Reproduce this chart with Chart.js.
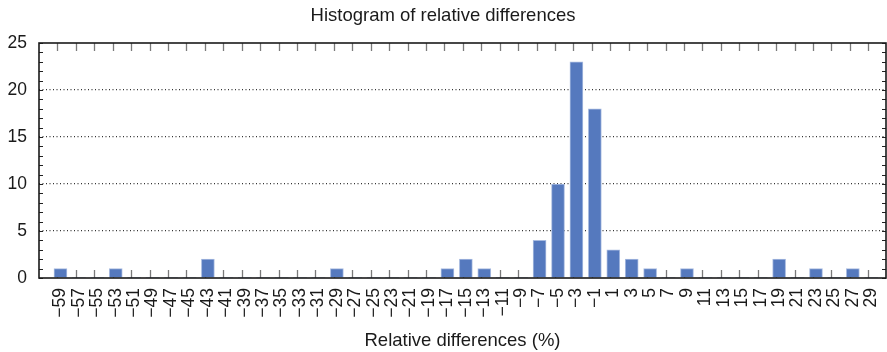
<!DOCTYPE html>
<html>
<head>
<meta charset="utf-8">
<script src="https://cdn.jsdelivr.net/npm/chart.js@4/dist/chart.umd.min.js"></script>
<style>
  html, body { margin: 0; padding: 0; background: #fff; }
  #wrap { width: 887px; height: 352px; }
</style>
</head>
<body>
<div id="wrap"><canvas id="hist" width="887" height="352"></canvas></div>
<script>
// Bin centres (%) and counts per bin
const binCenters = [-59, -57, -55, -53, -51, -49, -47, -45, -43, -41, -39, -37, -35, -33, -31,
                    -29, -27, -25, -23, -21, -19, -17, -15, -13, -11, -9, -7, -5, -3, -1,
                    1, 3, 5, 7, 9, 11, 13, 15, 17, 19, 21, 23, 25, 27, 29];
const binCounts  = [1, 0, 0, 1, 0, 0, 0, 0, 2, 0, 0, 0, 0, 0, 0,
                    1, 0, 0, 0, 0, 0, 1, 2, 1, 0, 0, 4, 10, 23, 18,
                    3, 2, 1, 0, 1, 0, 0, 0, 0, 2, 0, 1, 0, 1, 0];
const yTickValues = [0, 5, 10, 15, 20, 25];
const chartTitle = 'Histogram of relative differences';
const xTitle = 'Relative differences (%)';

const FONT = "'Liberation Sans', Arial, Helvetica, sans-serif";
const INK = '#1a1a1a';

const fmt = v => (v < 0 ? '\u2212' + Math.abs(v) : String(v));

// Inward tick marks on all four sides plus the surrounding box
const framePlugin = {
  id: 'frame',
  beforeDatasetsDraw(chart) {
    const { ctx, chartArea: a, scales: { x, y } } = chart;
    ctx.save();
    // x ticks (top and bottom), pointing into the plot
    ctx.strokeStyle = '#7a7a7a';
    ctx.lineWidth = 1.3;
    ctx.beginPath();
    binCenters.forEach(v => {
      const px = Math.round(x.getPixelForValue(v)) - 3 + 0.5;
      ctx.moveTo(px, a.top); ctx.lineTo(px, a.top + 8);
      ctx.moveTo(px, a.bottom); ctx.lineTo(px, a.bottom - 8);
    });
    ctx.stroke();
    // y minor ticks every unit (left and right), pointing inward
    ctx.strokeStyle = '#222';
    ctx.lineWidth = 1.2;
    ctx.beginPath();
    for (let v = y.min; v <= y.max; v++) {
      const py = Math.round(y.getPixelForValue(v)) + 0.5;
      ctx.moveTo(a.left, py); ctx.lineTo(a.left + 4, py);
      ctx.moveTo(a.right, py); ctx.lineTo(a.right - 4, py);
    }
    ctx.stroke();
    ctx.restore();
  },
  afterDatasetsDraw(chart) {
    const { ctx, chartArea: a } = chart;
    ctx.save();
    ctx.strokeStyle = INK;
    ctx.lineWidth = 1.6;
    ctx.strokeRect(a.left, a.top, a.right - a.left, a.bottom - a.top);
    ctx.restore();
  }
};

new Chart(document.getElementById('hist'), {
  type: 'bar',
  data: {
    datasets: [{
      data: binCenters.map((c, i) => ({ x: c, y: binCounts[i] })),
      backgroundColor: '#5579be',
      borderColor: '#a8bbe0',
      borderWidth: ctx => (ctx.raw && ctx.raw.y ? 1 : 0),
      borderSkipped: 'start',
      barThickness: 13
    }]
  },
  options: {
    responsive: false,
    animation: false,
    layout: { padding: { left: 0, right: 1, top: 0, bottom: 0 } },
    plugins: {
      legend: { display: false },
      tooltip: { enabled: false },
      title: {
        display: true,
        text: chartTitle,
        color: INK,
        font: { family: FONT, size: 18.5, weight: 'normal', lineHeight: 1.2 },
        padding: { top: 5, bottom: 15.8 }
      }
    },
    scales: {
      x: {
        type: 'linear',
        offset: false,
        min: -61.33,
        max: 30.6,
        afterBuildTicks: s => { s.ticks = binCenters.map(v => ({ value: v })); },
        afterFit: s => { s.height = 74; s.paddingLeft = 0; s.paddingRight = 0; },
        grid: { display: false, drawTicks: false, tickLength: 0, offset: false },
        border: { display: false },
        ticks: {
          autoSkip: false,
          minRotation: 90,
          maxRotation: 90,
          padding: 10,
          color: INK,
          font: { family: FONT, size: 17.5 },
          callback: v => fmt(v)
        },
        title: {
          display: true,
          text: xTitle,
          color: INK,
          font: { family: FONT, size: 18.5, lineHeight: 1.2 },
          padding: { top: 0, bottom: 0 }
        }
      },
      y: {
        min: 0,
        max: 25,
        afterBuildTicks: s => { s.ticks = yTickValues.map(v => ({ value: v })); },
        afterFit: s => { s.width = 39; },
        grid: {
          drawTicks: false,
          tickLength: 0,
          lineWidth: 1.2,
          color: c => (c.tick && (c.tick.value === 0 || c.tick.value === 25) ? 'rgba(0,0,0,0)' : '#333')
        },
        border: { display: false, dash: [1, 2.5] },
        ticks: {
          padding: 12,
          color: INK,
          font: { family: FONT, size: 17.5 },
          callback: v => String(v)
        }
      }
    }
  },
  plugins: [framePlugin]
});
</script>
</body>
</html>
